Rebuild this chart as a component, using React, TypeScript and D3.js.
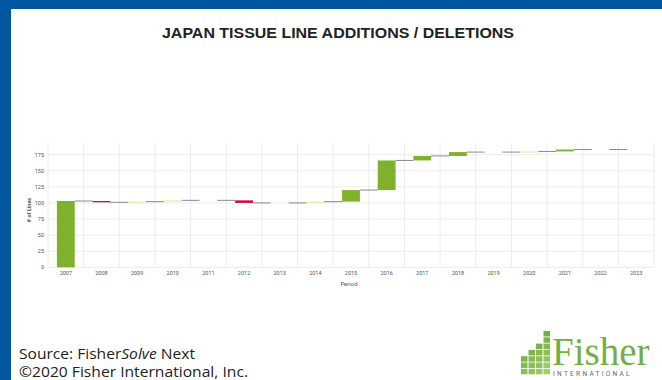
import React from "react";
import * as d3 from "d3";

const years = ["2007","2008","2009","2010","2011","2012","2013","2014","2015","2016","2017","2018","2019","2020","2021","2022","2023"];
const deltas = [103, -2, 1, 2, 0, -4, 0, 2, 18, 46, 7, 6, 0, 1, 3, 0, 0];
const kinds = ["add","del","minor","minor","none","del","none","minor","add","add","add","add","none","minor","add","none","none"];
const yTicks = [0, 25, 50, 75, 100, 125, 150, 175];

const W = 662, H = 380;
const plot = { left: 48, right: 654, top: 145, bottom: 267.3 };

const colors: Record<string, string> = { add: "#7fb12d", del: "#c8103e", minor: "#e6eda8", none: "none" };

export default function App() {
  const x = d3.scaleBand<string>().domain(years).range([plot.left, plot.right]).paddingInner(0.5).paddingOuter(0.25);
  const step = x.step();
  const y = d3.scaleLinear().domain([0, 190]).range([plot.bottom, plot.top]);
  let cum = 0;
  const bars = deltas.map((d, i) => {
    const start = cum;
    cum += d;
    return { year: years[i], start, end: cum, kind: kinds[i] };
  });
  const bw = x.bandwidth();
  const boundaries = years.map((_, i) => plot.left + i * step).concat([plot.right]);

  const logoCells: number[][] = [
    [0, 4], [0, 5], [0, 6],
    [1, 3], [1, 4], [1, 5], [1, 6],
    [2, 2], [2, 3], [2, 4], [2, 5], [2, 6],
    [3, 0], [3, 1], [3, 2], [3, 3], [3, 4], [3, 5], [3, 6],
  ];

  return (
    <svg width={W} height={H} style={{ position: "absolute", left: 0, top: 0, background: "#fff" }}>
      <rect x={0} y={0} width={W} height={H} fill="#fff" />
      <rect x={0} y={0} width={W} height={9} fill="#0057a0" />
      <rect x={0} y={0} width={11} height={H} fill="#0057a0" />
      <text x={162} y={38} textLength={352} lengthAdjust="spacingAndGlyphs" fontFamily="Liberation Sans, Arial, sans-serif" fontWeight="bold" fontSize={14.5} fill="#222">
        JAPAN TISSUE LINE ADDITIONS / DELETIONS
      </text>

      {/* grid */}
      {yTicks.map(t => (
        <line key={"h" + t} x1={plot.left} x2={plot.right} y1={y(t)} y2={y(t)} stroke="#ececec" strokeWidth={1} />
      ))}
      {boundaries.map((b, i) => (
        <line key={"v" + i} x1={b} x2={b} y1={plot.top - 2} y2={plot.bottom} stroke="#ececec" strokeWidth={1} />
      ))}

      {/* connectors */}
      {bars.slice(0, -1).map((b, i) => {
        const x1 = (x(b.year) as number) + bw;
        const x2 = x(years[i + 1]) as number;
        return <line key={"c" + i} x1={x1} x2={x2} y1={y(b.end)} y2={y(b.end)} stroke="#8a8a8a" strokeWidth={1} />;
      })}

      {/* bars */}
      {bars.map(b => b.kind === "none" ? null : (
        <rect key={b.year} x={x(b.year)} width={bw}
          y={y(Math.max(b.start, b.end))}
          height={Math.max(1.2, Math.abs(y(b.start) - y(b.end)))}
          fill={colors[b.kind]} />
      ))}

      {/* y ticks */}
      {yTicks.map(t => (
        <text key={"yt" + t} x={44} y={y(t) + 2} textAnchor="end" fontFamily="Roboto, sans-serif" fontSize={5.5} fill="#555">{t}</text>
      ))}
      {years.map(yr => (
        <text key={"xt" + yr} x={(x(yr) as number) + bw / 2} y={275} textAnchor="middle" fontFamily="Roboto, sans-serif" fontSize={5.5} fill="#555">{yr}</text>
      ))}
      <text x={349} y={286} textAnchor="middle" fontFamily="Roboto, sans-serif" fontSize={6} fill="#555">Period</text>
      <text transform="translate(31,210) rotate(-90)" textAnchor="middle" fontFamily="Roboto, sans-serif" fontSize={5.5} fontWeight="bold" fill="#555"># of Lines</text>

      {/* source */}
      <text x={19} y={359} textLength={176} lengthAdjust="spacingAndGlyphs" fontFamily="Open Sans, sans-serif" fontSize={14} fill="#222">
        Source: Fisher<tspan fontStyle="italic">Solve</tspan> Next
      </text>
      <text x={19} y={377} textLength={229} lengthAdjust="spacingAndGlyphs" fontFamily="Open Sans, sans-serif" fontSize={14} fill="#222">©2020 Fisher International, Inc.</text>

      {/* logo */}
      <g>
        {logoCells.map(([c, r], i) => (
          <rect key={"lg" + i} x={521 + c * 7.5} y={331 + r * 6.3} width={6.5} height={5.5}
            fill={d3.interpolateRgb("#5fa030", "#a9d46e")((r + c) / 10)} />
        ))}
        <text x={552} y={365} fontFamily="Liberation Serif, DejaVu Serif, serif" fontSize={39} fill="#72b043">Fisher</text>
        <text x={553} y={376} fontFamily="Roboto, sans-serif" fontSize={6.5} letterSpacing={2.3} fill="#666">INTERNATIONAL</text>
      </g>
    </svg>
  );
}
